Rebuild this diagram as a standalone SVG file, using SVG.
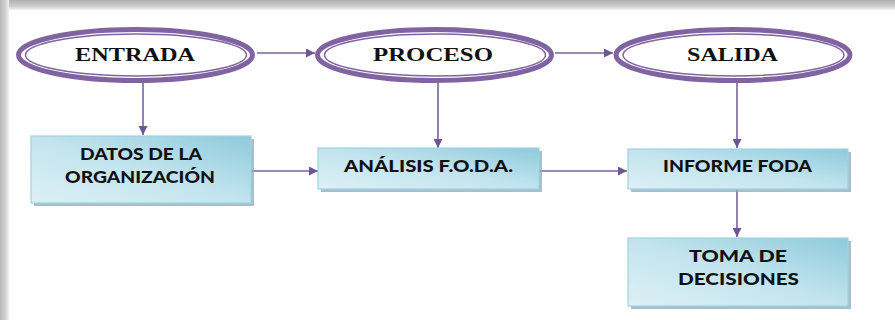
<svg xmlns="http://www.w3.org/2000/svg" width="895" height="320" viewBox="0 0 895 320">
  <defs>
    <linearGradient id="frameTop" x1="0" y1="0" x2="0" y2="1">
      <stop offset="0" stop-color="#b0b0b0"/>
      <stop offset="0.6" stop-color="#cccccc"/>
      <stop offset="1" stop-color="#f2f2f2"/>
    </linearGradient>
    <linearGradient id="frameLeft" x1="0" y1="0" x2="1" y2="0">
      <stop offset="0" stop-color="#b8b8b8"/>
      <stop offset="0.6" stop-color="#d2d2d2"/>
      <stop offset="1" stop-color="#f2f2f2"/>
    </linearGradient>
    <linearGradient id="boxFill" x1="0" y1="1" x2="1" y2="0">
      <stop offset="0" stop-color="#ddf0f5"/>
      <stop offset="0.5" stop-color="#c2e4ee"/>
      <stop offset="1" stop-color="#8fcadb"/>
    </linearGradient>
    <marker id="arrow" viewBox="0 0 10 10" refX="10" refY="5" markerWidth="9" markerHeight="9" markerUnits="userSpaceOnUse" orient="auto">
      <path d="M0,0 L10,5 L0,10 z" fill="#6e5696"/>
    </marker>
    <style>
      .oval-outer { fill: #ffffff; stroke: #8064a2; stroke-width: 5; }
      .oval-inner { fill: none; stroke: #8064a2; stroke-width: 1.5; }
      .oval-text { font-family: "Liberation Serif", "Times New Roman", serif; font-weight: bold; font-size: 19px; fill: #111111; text-anchor: middle; }
      .box { fill: url(#boxFill); stroke: #9fd3e2; stroke-width: 1.2; }
      .box-shadow { fill: #8aa9b8; opacity: 0.75; }
      .box-text { font-family: Lato, "Open Sans", "Liberation Sans", sans-serif; font-weight: 900; font-size: 17px; fill: #111111; text-anchor: middle; }
      .link { stroke: #7a629f; stroke-width: 1.6; fill: none; marker-end: url(#arrow); }
    </style>
  </defs>

  <!-- page background with shaded frame edges -->
  <rect x="0" y="0" width="895" height="320" fill="#ffffff"/>
  <rect x="0" y="0" width="895" height="10" fill="url(#frameTop)"/>
  <rect x="0" y="0" width="9" height="320" fill="url(#frameLeft)"/>

  <!-- connectors -->
  <g id="connectors">
    <line class="link" x1="257" y1="53" x2="315" y2="53"/>
    <line class="link" x1="555" y1="53" x2="613" y2="53"/>
    <line class="link" x1="143" y1="83" x2="143" y2="135"/>
    <line class="link" x1="438" y1="83" x2="438" y2="148"/>
    <line class="link" x1="737" y1="83" x2="737" y2="148"/>
    <line class="link" x1="251" y1="171" x2="318" y2="171"/>
    <line class="link" x1="539" y1="171" x2="627" y2="171"/>
    <line class="link" x1="737" y1="189" x2="737" y2="237"/>
  </g>

  <!-- input / process / output ovals -->
  <g id="entrada">
    <ellipse class="oval-outer" cx="135.5" cy="55" rx="117" ry="25.5"/>
    <ellipse class="oval-inner" cx="136" cy="55" rx="110.5" ry="21"/>
    <text class="oval-text" x="135" y="61" textLength="120" lengthAdjust="spacingAndGlyphs">ENTRADA</text>
  </g>
  <g id="proceso">
    <ellipse class="oval-outer" cx="434.5" cy="55" rx="117" ry="25.5"/>
    <ellipse class="oval-inner" cx="435" cy="55" rx="110.5" ry="21"/>
    <text class="oval-text" x="433" y="61" textLength="120" lengthAdjust="spacingAndGlyphs">PROCESO</text>
  </g>
  <g id="salida">
    <ellipse class="oval-outer" cx="733" cy="55" rx="117" ry="25.5"/>
    <ellipse class="oval-inner" cx="733.5" cy="55" rx="110.5" ry="21"/>
    <text class="oval-text" x="732.5" y="61" textLength="91" lengthAdjust="spacingAndGlyphs">SALIDA</text>
  </g>

  <!-- process boxes -->
  <g id="datos">
    <rect class="box-shadow" x="34" y="139" width="220" height="67"/>
    <rect class="box" x="31" y="136" width="220" height="67"/>
    <text class="box-text" x="141" y="160" textLength="122" lengthAdjust="spacingAndGlyphs">DATOS DE LA</text>
    <text class="box-text" x="140" y="183" textLength="150" lengthAdjust="spacingAndGlyphs">ORGANIZACIÓN</text>
  </g>
  <g id="analisis">
    <rect class="box-shadow" x="321" y="151" width="221" height="41"/>
    <rect class="box" x="318" y="148" width="221" height="41"/>
    <text class="box-text" x="428.5" y="172" textLength="169" lengthAdjust="spacingAndGlyphs">ANÁLISIS F.O.D.A.</text>
  </g>
  <g id="informe">
    <rect class="box-shadow" x="631" y="152" width="220" height="40"/>
    <rect class="box" x="628" y="149" width="220" height="40"/>
    <text class="box-text" x="737.5" y="172" textLength="149" lengthAdjust="spacingAndGlyphs">INFORME FODA</text>
  </g>
  <g id="toma">
    <rect class="box-shadow" x="631" y="241" width="220" height="68"/>
    <rect class="box" x="628" y="238" width="220" height="68"/>
    <text class="box-text" x="738" y="262" textLength="98" lengthAdjust="spacingAndGlyphs">TOMA DE</text>
    <text class="box-text" x="738.5" y="285" textLength="121" lengthAdjust="spacingAndGlyphs">DECISIONES</text>
  </g>
</svg>
